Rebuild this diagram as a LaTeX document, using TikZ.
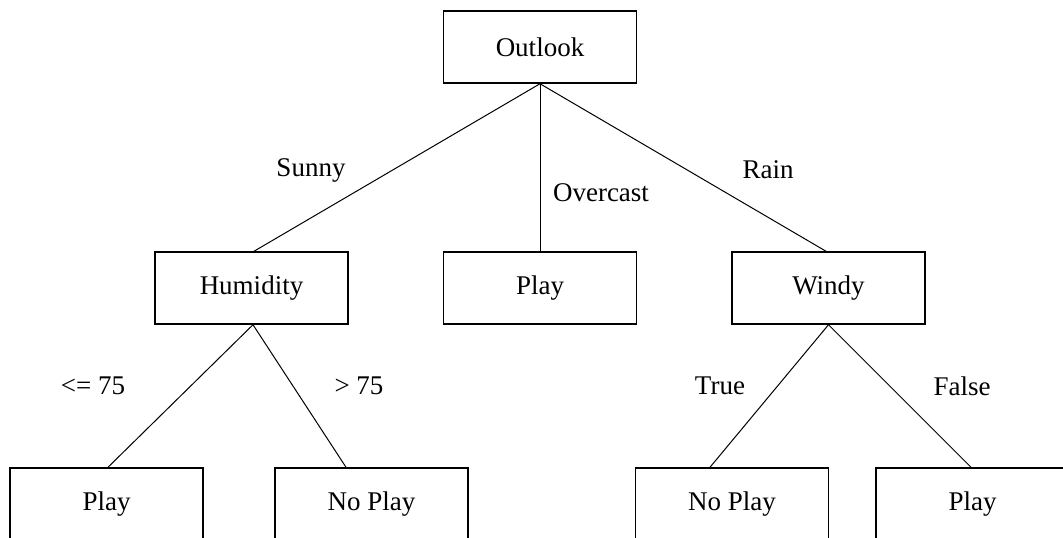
\documentclass[tikz,border=0pt]{standalone}
\usepackage{fontspec}
\setmainfont{Liberation Serif}
\begin{document}
\begin{tikzpicture}[x=1pt,y=-1pt,
  box/.style={draw,line width=1.5pt,minimum width=193pt,minimum height=72pt,inner sep=0pt,font=\fontsize{27}{32}\selectfont},
  lbl/.style={font=\fontsize{27}{32}\selectfont,inner sep=0pt},
  edge/.style={line width=1pt}]
\useasboundingbox (0,0) rectangle (1063,538);
\clip (0,0) rectangle (1063,538);
\node[box] (outlook) at (540,47) {Outlook};
\node[box] (humidity) at (251.5,288) {Humidity};
\node[box] (playA) at (540,288) {Play};
\node[box] (windy) at (828.5,288) {Windy};
\node[box] (playB) at (106.5,504) {Play};
\node[box] (noplayA) at (371.5,504) {No Play};
\node[box] (noplayB) at (732,504) {No Play};
\node[box] (playC) at (972.5,504) {Play};
\draw[edge] (outlook.south) -- ([xshift=2.5pt]humidity.north);
\draw[edge] (outlook.south) -- (playA.north);
\draw[edge] (outlook.south) -- ([xshift=-2.5pt]windy.north);
\draw[edge] ([xshift=1.5pt]humidity.south) -- ([xshift=1.5pt]playB.north);
\draw[edge] ([xshift=1.5pt]humidity.south) -- ([xshift=-25.5pt]noplayA.north);
\draw[edge] (windy.south) -- ([xshift=-22pt]noplayB.north);
\draw[edge] (windy.south) -- ([xshift=-1.5pt]playC.north);
\node[lbl] (sunny) at (311,170) {Sunny};
\node[lbl] (overcast) at (601,193) {Overcast};
\node[lbl] (rain) at (768,170) {Rain};
\node[lbl] (le75) at (93,386) {<= 75};
\node[lbl] (gt75) at (359,386) {> 75};
\node[lbl] (true) at (720,386) {True};
\node[lbl] (false) at (962,386) {False};
\end{tikzpicture}
\end{document}
